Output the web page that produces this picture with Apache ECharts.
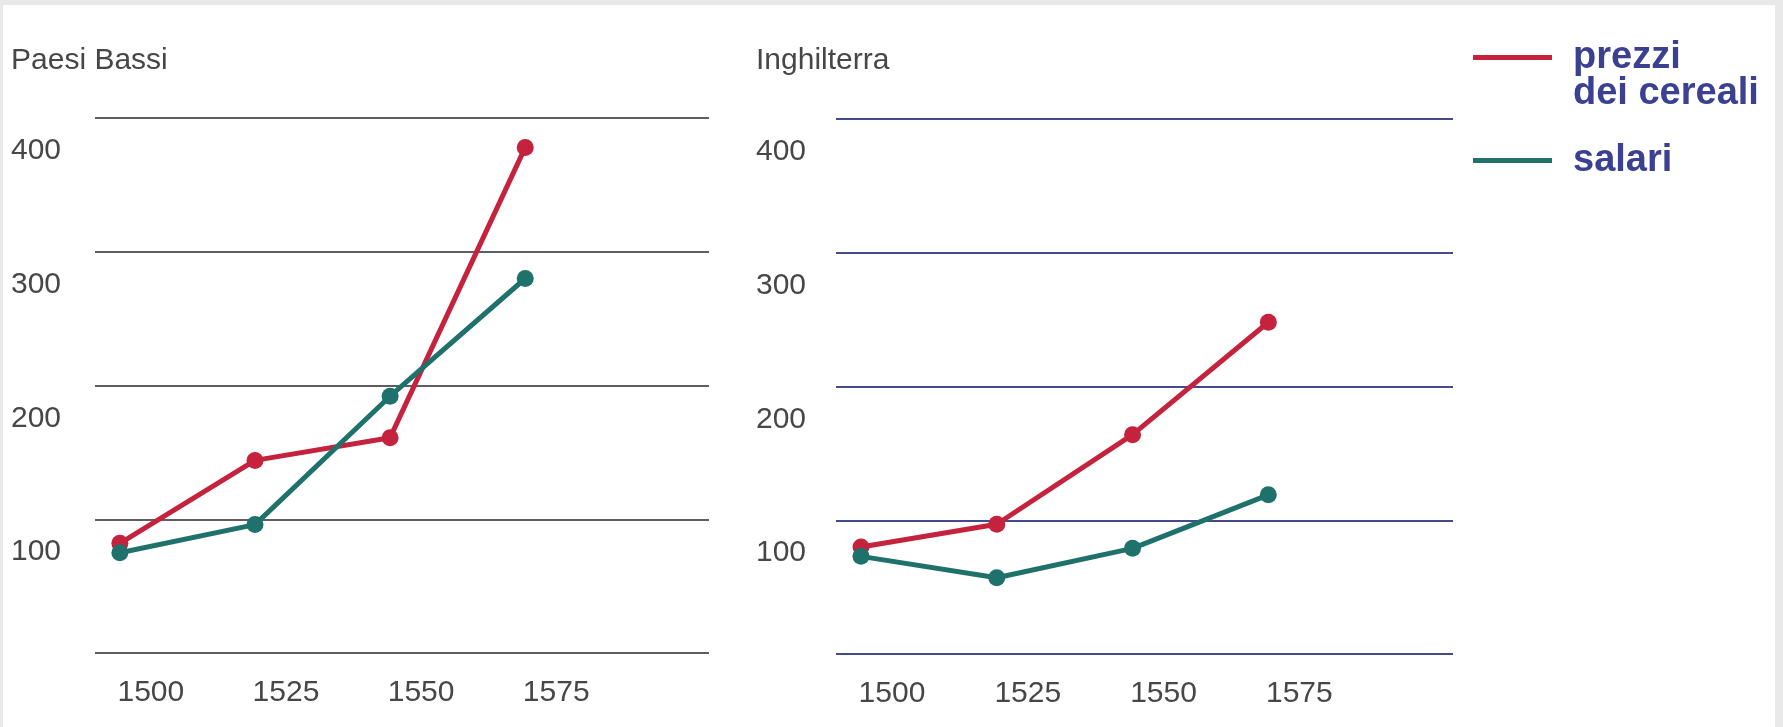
<!DOCTYPE html>
<html>
<head>
<meta charset="utf-8">
<script src="https://cdn.jsdelivr.net/npm/echarts@6/dist/echarts.min.js"></script>
<style>
  html, body { margin: 0; padding: 0; background: #e9e9e9; }
  #chart { position: absolute; left: 3px; top: 5px; width: 1772px; height: 722px; background: #ffffff; }
</style>
</head>
<body>
<div id="chart"></div>
<script>
const years = [1500, 1525, 1550, 1575];
const nlPrices = [102, 164, 181, 398];
const nlWages = [95, 116, 212, 300];
const enPrices = [100, 117, 184, 268];
const enWages = [93, 77, 99, 139];
const yTickLabels = [100, 200, 300, 400];
const xTickLabels = [1500, 1525, 1550, 1575];
const panelTitles = ['Paesi Bassi', 'Inghilterra'];
const seriesNames = ['prezzi\ndei cereali', 'salari'];

const RED = '#c5223d';
const TEAL = '#1f726b';
const FONT = 'Liberation Sans';
const LABEL_COLOR = '#474747';

function pairs(vals) { return years.map((y, i) => [y, vals[i]]); }

function xAxisFor(idx) {
  return {
    type: 'value', gridIndex: idx, min: 1495.4, max: 1609,
    axisLine: { show: false }, axisTick: { show: false }, splitLine: { show: false },
    axisLabel: {
      customValues: xTickLabels, fontFamily: FONT, fontSize: 30, color: LABEL_COLOR,
      margin: 25, padding: [0, 0, 0, 62], formatter: v => String(v)
    }
  };
}
function yAxisFor(idx, gridColor, margin) {
  return {
    type: 'value', gridIndex: idx, min: 20, max: 420, interval: 100,
    axisLine: { show: false }, axisTick: { show: false },
    splitLine: { show: true, lineStyle: { color: gridColor, width: 2 } },
    axisLabel: {
      customValues: yTickLabels, fontFamily: FONT, fontSize: 30, color: LABEL_COLOR,
      align: 'left', verticalAlign: 'top', lineHeight: 12, margin: margin
    }
  };
}
function lineSeries(name, idx, vals, color) {
  return {
    name: name, type: 'line', xAxisIndex: idx, yAxisIndex: idx,
    data: pairs(vals), symbol: 'circle', symbolSize: 17, showSymbol: true,
    lineStyle: { color: color, width: 5 }, itemStyle: { color: color },
    emphasis: { disabled: true }, animation: false
  };
}

const chart = echarts.init(document.getElementById('chart'));
chart.setOption({
  animation: false,
  title: [
    { text: panelTitles[0], left: 8, top: 41, padding: 0,
      textStyle: { fontFamily: FONT, fontSize: 30, fontWeight: 'normal', color: LABEL_COLOR } },
    { text: panelTitles[1], left: 753, top: 41, padding: 0,
      textStyle: { fontFamily: FONT, fontSize: 30, fontWeight: 'normal', color: LABEL_COLOR } }
  ],
  legend: {
    orient: 'vertical', left: 1470, top: -5, padding: 0,
    icon: 'rect', itemWidth: 79, itemHeight: 5, itemGap: 24,
    formatter: name => (name.indexOf('\n') >= 0 ? '\n' + name : name),
    textStyle: { fontFamily: FONT, fontSize: 38, fontWeight: 'bold', color: '#3b4190',
      lineHeight: 36, padding: [0, 0, 7, 16] },
    data: [
      { name: seriesNames[0], itemStyle: { color: RED } },
      { name: seriesNames[1], itemStyle: { color: TEAL } }
    ]
  },
  grid: [
    { left: 92, top: 113, width: 614, height: 535 },
    { left: 833, top: 114, width: 617, height: 535 }
  ],
  xAxis: [xAxisFor(0), xAxisFor(1)],
  yAxis: [yAxisFor(0, '#5e5e5e', 84), yAxisFor(1, '#454a8c', 80)],
  series: [
    lineSeries(seriesNames[0], 0, nlPrices, RED),
    lineSeries(seriesNames[1], 0, nlWages, TEAL),
    lineSeries(seriesNames[0], 1, enPrices, RED),
    lineSeries(seriesNames[1], 1, enWages, TEAL)
  ]
});
</script>
</body>
</html>
